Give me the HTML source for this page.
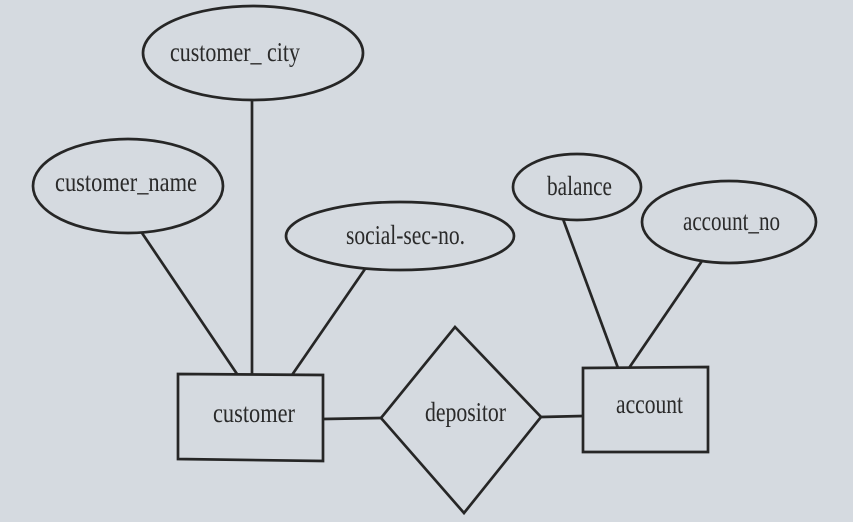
<!DOCTYPE html>
<html>
<head>
<meta charset="utf-8">
<style>
  html, body { margin: 0; padding: 0; }
  body { width: 853px; height: 522px; background: #d5dae0; overflow: hidden; }
  svg { display: block; }
  text { font-family: "Liberation Serif", "DejaVu Serif", serif; font-size: 27px; fill: #2a2a2a; }
</style>
</head>
<body>
<svg width="853" height="522" viewBox="0 0 853 522" xmlns="http://www.w3.org/2000/svg">
  <rect x="0" y="0" width="853" height="522" fill="#d5dae0"/>
  <g fill="none" stroke="#262626" stroke-width="2.7">
    <!-- attribute ellipses -->
    <ellipse cx="253" cy="53" rx="110" ry="47"/>
    <ellipse cx="128" cy="186" rx="95" ry="47"/>
    <ellipse cx="400" cy="236" rx="114" ry="34"/>
    <ellipse cx="577" cy="187" rx="64" ry="33"/>
    <ellipse cx="729" cy="222" rx="87" ry="41"/>
    <!-- entities -->
    <polygon points="178,374 323,375 323,461 178,459"/>
    <polygon points="583,368 708,367 708,452 583,452"/>
    <!-- relationship -->
    <polygon points="381,418 455,327 541,417 464,513"/>
    <!-- connectors -->
    <line x1="142" y1="233" x2="237" y2="374"/>
    <line x1="252" y1="100" x2="252" y2="374"/>
    <line x1="365" y1="269" x2="292" y2="375"/>
    <line x1="563" y1="219" x2="618" y2="368"/>
    <line x1="702" y1="261" x2="629" y2="368"/>
    <line x1="323" y1="419" x2="381" y2="418"/>
    <line x1="541" y1="417" x2="583" y2="416"/>
  </g>
  <text x="170" y="61" textLength="130" lengthAdjust="spacingAndGlyphs">customer_ city</text>
  <text x="55" y="191" textLength="142" lengthAdjust="spacingAndGlyphs">customer_name</text>
  <text x="346" y="244" textLength="119" lengthAdjust="spacingAndGlyphs">social-sec-no.</text>
  <text x="547" y="195" textLength="65" lengthAdjust="spacingAndGlyphs">balance</text>
  <text x="683" y="230" textLength="97" lengthAdjust="spacingAndGlyphs">account_no</text>
  <text x="213" y="422" textLength="82" lengthAdjust="spacingAndGlyphs">customer</text>
  <text x="425" y="421" textLength="81" lengthAdjust="spacingAndGlyphs">depositor</text>
  <text x="616" y="413" textLength="67" lengthAdjust="spacingAndGlyphs">account</text>
</svg>
</body>
</html>
